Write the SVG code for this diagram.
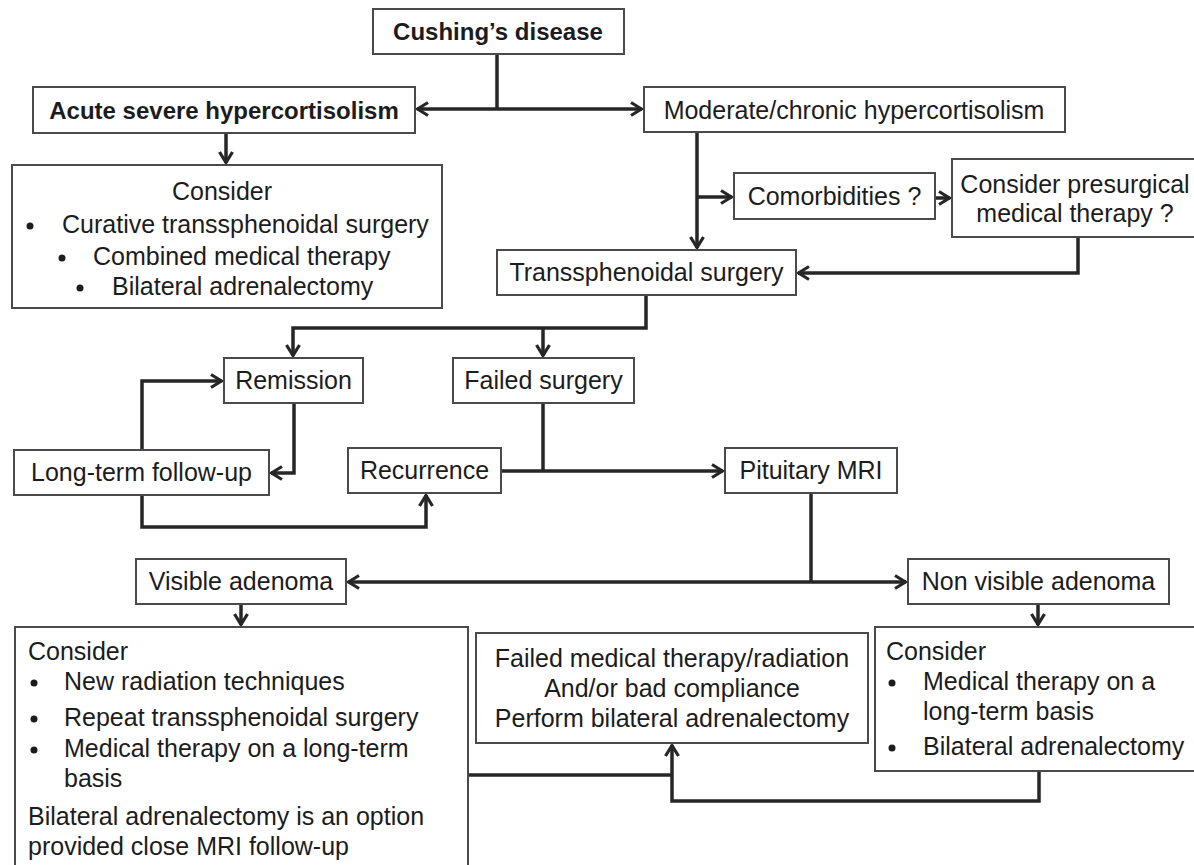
<svg xmlns="http://www.w3.org/2000/svg" width="1194" height="865" viewBox="0 0 1194 865">
<defs>
<style>
.box{fill:#fff;stroke:#4a4a4a;stroke-width:2}
.t{font-family:"Liberation Sans",Arial,sans-serif;font-size:25px;fill:#1c1c1c}
.c{text-anchor:middle}
.b{font-weight:bold;font-size:24px}
.ln{fill:none;stroke:#262626;stroke-width:3.5;stroke-linejoin:miter}
.dot{fill:#1c1c1c}
</style>
<marker id="ah" markerUnits="userSpaceOnUse" markerWidth="16" markerHeight="16" viewBox="0 0 16 16" refX="14" refY="8" orient="auto">
<path d="M3,1.5 L13.5,8 L3,14.5" fill="none" stroke="#262626" stroke-width="3.2" stroke-linejoin="miter"/>
</marker>
</defs>
<rect width="1194" height="865" fill="#fff"/>

<g id="connectors">
<path class="ln" d="M497,54 V109"/>
<path class="ln" d="M497,109 H417" marker-end="url(#ah)"/>
<path class="ln" d="M497,109 H642" marker-end="url(#ah)"/>
<path class="ln" d="M226,133 V163" marker-end="url(#ah)"/>
<path class="ln" d="M697,132 V248" marker-end="url(#ah)"/>
<path class="ln" d="M697,197 H732" marker-end="url(#ah)"/>
<path class="ln" d="M935,198 H950" marker-end="url(#ah)"/>
<path class="ln" d="M1078,237 V273 H798" marker-end="url(#ah)"/>
<path class="ln" d="M646,295 V328 H293 V356" marker-end="url(#ah)"/>
<path class="ln" d="M543,328 V356" marker-end="url(#ah)"/>
<path class="ln" d="M294,403 V473 H271" marker-end="url(#ah)"/>
<path class="ln" d="M142,450 V381 H222" marker-end="url(#ah)"/>
<path class="ln" d="M142,495 V527 H426 V495" marker-end="url(#ah)"/>
<path class="ln" d="M543,403 V471"/>
<path class="ln" d="M501,471 H723" marker-end="url(#ah)"/>
<path class="ln" d="M811,493 V582"/>
<path class="ln" d="M811,582 H348" marker-end="url(#ah)"/>
<path class="ln" d="M811,582 H906" marker-end="url(#ah)"/>
<path class="ln" d="M241,604 V625" marker-end="url(#ah)"/>
<path class="ln" d="M1038,604 V625" marker-end="url(#ah)"/>
<path class="ln" d="M1039,771 V801 H672 V745" marker-end="url(#ah)"/>
<path class="ln" d="M468,775 H672"/>
</g>

<g id="cushing">
<rect class="box" x="373" y="9" width="251" height="45"/>
<text class="t c b" x="498" y="40">Cushing’s disease</text>
</g>
<g id="acute">
<rect class="box" x="33" y="87" width="382" height="46"/>
<text class="t c b" x="224" y="119">Acute severe hypercortisolism</text>
</g>
<g id="moderate">
<rect class="box" x="644" y="87" width="421" height="45"/>
<text class="t c" x="854" y="119">Moderate/chronic hypercortisolism</text>
</g>
<g id="consider-acute">
<rect class="box" x="12" y="165" width="430" height="143"/>
<text class="t c" x="222" y="200">Consider</text>
<circle class="dot" cx="30" cy="226" r="3.5"/>
<text class="t" x="62" y="233">Curative transsphenoidal surgery</text>
<circle class="dot" cx="62" cy="258" r="3.5"/>
<text class="t" x="93" y="265">Combined medical therapy</text>
<circle class="dot" cx="80" cy="288" r="3.5"/>
<text class="t" x="112" y="295">Bilateral adrenalectomy</text>
</g>
<g id="comorbidities">
<rect class="box" x="734" y="173" width="201" height="46"/>
<text class="t c" x="834.5" y="205">Comorbidities ?</text>
</g>
<g id="presurgical">
<rect class="box" x="952" y="159" width="250" height="78"/>
<text class="t c" x="1075" y="193">Consider presurgical</text>
<text class="t c" x="1075" y="222">medical therapy ?</text>
</g>
<g id="transsphenoidal">
<rect class="box" x="497" y="250" width="299" height="45"/>
<text class="t c" x="646.5" y="281">Transsphenoidal surgery</text>
</g>
<g id="remission">
<rect class="box" x="224" y="358" width="139" height="45"/>
<text class="t c" x="293.5" y="389">Remission</text>
</g>
<g id="failed-surgery">
<rect class="box" x="453" y="358" width="181" height="45"/>
<text class="t c" x="543.5" y="389">Failed surgery</text>
</g>
<g id="long-term">
<rect class="box" x="14" y="450" width="255" height="45"/>
<text class="t c" x="141.5" y="481">Long-term follow-up</text>
</g>
<g id="recurrence">
<rect class="box" x="348" y="448" width="153" height="45"/>
<text class="t c" x="424.5" y="479">Recurrence</text>
</g>
<g id="pituitary-mri">
<rect class="box" x="725" y="448" width="172" height="45"/>
<text class="t c" x="811" y="479">Pituitary MRI</text>
</g>
<g id="visible">
<rect class="box" x="136" y="559" width="210" height="45"/>
<text class="t c" x="241" y="590">Visible adenoma</text>
</g>
<g id="non-visible">
<rect class="box" x="908" y="559" width="261" height="45"/>
<text class="t c" x="1038.5" y="590">Non visible adenoma</text>
</g>
<g id="consider-visible">
<rect class="box" x="15" y="627" width="453" height="250"/>
<text class="t" x="28" y="660">Consider</text>
<circle class="dot" cx="34" cy="683" r="3.5"/>
<text class="t" x="64" y="690">New radiation techniques</text>
<circle class="dot" cx="34" cy="719" r="3.5"/>
<text class="t" x="64" y="726">Repeat transsphenoidal surgery</text>
<circle class="dot" cx="34" cy="750" r="3.5"/>
<text class="t" x="64" y="757">Medical therapy on a long-term</text>
<text class="t" x="64" y="787">basis</text>
<text class="t" x="28" y="825">Bilateral adrenalectomy is an option</text>
<text class="t" x="28" y="855">provided close MRI follow-up</text>
</g>
<g id="failed-medical">
<rect class="box" x="476" y="633" width="392" height="110"/>
<text class="t c" x="672" y="667">Failed medical therapy/radiation</text>
<text class="t c" x="672" y="697">And/or bad compliance</text>
<text class="t c" x="672" y="727">Perform bilateral adrenalectomy</text>
</g>
<g id="consider-nonvisible">
<rect class="box" x="875" y="627" width="330" height="144"/>
<text class="t" x="886" y="660">Consider</text>
<circle class="dot" cx="892" cy="683" r="3.5"/>
<text class="t" x="923" y="690">Medical therapy on a</text>
<text class="t" x="923" y="720">long-term basis</text>
<circle class="dot" cx="892" cy="748" r="3.5"/>
<text class="t" x="923" y="755">Bilateral adrenalectomy</text>
</g>
</svg>
